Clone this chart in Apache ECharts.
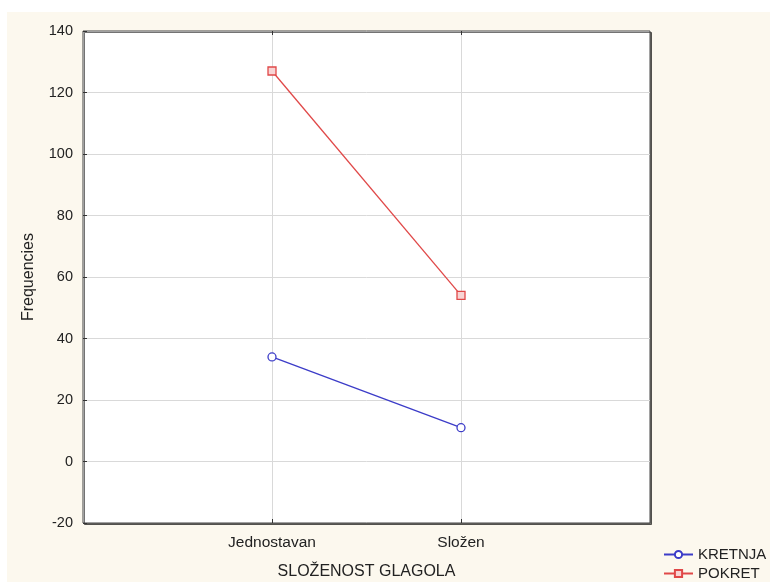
<!DOCTYPE html>
<html><head><meta charset="utf-8">
<script src="https://cdn.jsdelivr.net/npm/echarts@6/dist/echarts.min.js"></script>
<style>html,body{margin:0;padding:0;background:#fff}#c{width:770px;height:582px}</style>
</head><body><div id="c"></div>
<script>
var categories = ['Jednostavan', 'Složen'];
var kretnja = [34, 11];
var pokret = [127, 54];
var yTicks = [-20, 0, 20, 40, 60, 80, 100, 120, 140];

var axisCats = [''].concat(categories).concat([' ']);
function pairs(vals){ return categories.map(function(c,i){ return [c, vals[i]]; }); }

var chart = echarts.init(document.getElementById('c'));
var font = 'Liberation Sans, Arial, sans-serif';
chart.setOption({
  animation: false,
  backgroundColor: '#ffffff',
  graphic: [{type:'rect', z:-10, shape:{x:7,y:12,width:763,height:570}, style:{fill:'#fcf8ee'}}],
  grid: {left:83, right:120, top:31, bottom:59, containLabel:false, outerBoundsMode:'none',
         show:true, backgroundColor:'#ffffff', borderColor:'#444', borderWidth:1,
         shadowColor:'rgba(0,0,0,0.55)', shadowOffsetX:1.5, shadowOffsetY:1.5, shadowBlur:0},
  legend: {orient:'vertical', left:663, top:547, padding:0, itemWidth:29, itemHeight:9, itemGap:4,
           textStyle:{fontFamily:font, fontSize:15, color:'#222'},
           data:['KRETNJA','POKRET']},
  xAxis: [{
    type:'category', data:axisCats, boundaryGap:false,
    name:'SLOŽENOST GLAGOLA', nameLocation:'middle', nameGap:41,
    nameTextStyle:{fontFamily:font, fontSize:16, color:'#222'},
    axisLine:{show:false, onZero:false},
    axisTick:{show:true, inside:true, length:4, interval:function(i){return i===1||i===2;}, lineStyle:{color:'#333'}},
    axisLabel:{interval:0, margin:12, fontFamily:font, fontSize:15.5, color:'#222'},
    splitLine:{show:true, interval:function(i){return i===1||i===2;}, lineStyle:{color:'#d9d9d9', width:1}}
  },{
    type:'category', data:axisCats, boundaryGap:false, position:'top',
    axisLine:{show:false, onZero:false}, axisLabel:{show:false},
    axisTick:{show:true, inside:true, length:4, interval:function(i){return i===1||i===2;}, lineStyle:{color:'#333'}},
    splitLine:{show:false}
  }],
  yAxis: {
    type:'value', min:yTicks[0], max:yTicks[yTicks.length-1], interval:20,
    name:'Frequencies', nameLocation:'middle', nameGap:46, nameRotate:90,
    nameTextStyle:{fontFamily:font, fontSize:16, color:'#222'},
    axisLine:{show:false, onZero:false},
    axisTick:{show:true, inside:true, length:4, lineStyle:{color:'#333'}},
    axisLabel:{margin:10, fontFamily:font, fontSize:14.5, color:'#222'},
    splitLine:{show:true, showMinLine:false, showMaxLine:false, lineStyle:{color:'#d9d9d9', width:1}}
  },
  series: [{
    name:'KRETNJA', type:'line', data:pairs(kretnja),
    symbol:'circle', symbolSize:8,
    lineStyle:{color:'#3c3cc8', width:1.3},
    itemStyle:{color:'#ffffff', borderColor:'#3c3cc8', borderWidth:1.3},
    z:3
  },{
    name:'POKRET', type:'line', data:pairs(pokret),
    symbol:'rect', symbolSize:8,
    lineStyle:{color:'#e04848', width:1.3},
    itemStyle:{color:'#f8d4d4', borderColor:'#e04848', borderWidth:1.3},
    z:3
  }]
});
</script></body></html>
